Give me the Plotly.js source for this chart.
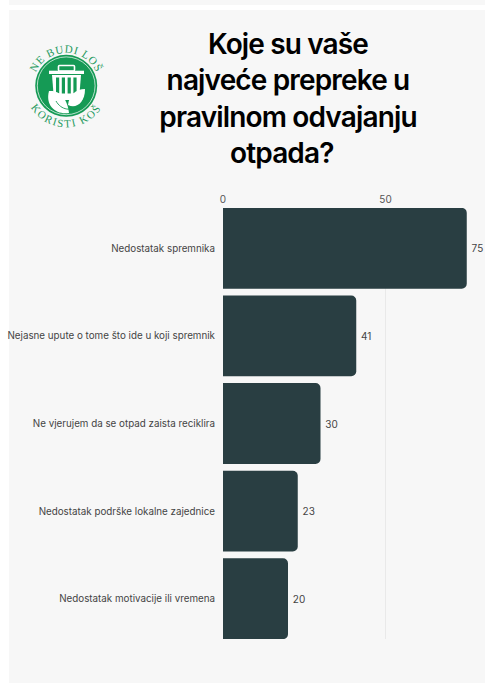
<!DOCTYPE html>
<html>
<head>
<meta charset="utf-8">
<script src="https://cdn.plot.ly/plotly-3.0.1.min.js"></script>
<style>
  html, body { margin: 0; padding: 0; background: #ffffff; }
  #page { position: relative; width: 485px; height: 683px; overflow: hidden; }
  .panel { position: absolute; left: 9px; right: 0; background: #f7f7f7; }
  #chart { position: absolute; left: 0; top: 0; width: 485px; height: 683px; }
  #chart .gtitle { letter-spacing: -0.85px; }
  #badge { position: absolute; left: 25px; top: 42px; width: 84px; height: 90px; overflow: visible; }
</style>
</head>
<body>
<div id="page">
  <div class="panel" style="top:0;height:5px"></div>
  <div class="panel" style="top:10px;bottom:0"></div>
  <div id="chart"></div>
  <!-- Campaign badge: green disc with a bin and leaves, ringed by the slogan -->
  <svg id="badge" viewBox="0 0 84 90">
    <defs>
      <path id="arcTop" d="M8.2 43.8 A33 33 0 0 1 74.2 43.8"/>
      <path id="arcBottom" d="M-0.3 43.8 A41.5 41.5 0 0 0 82.7 43.8"/>
    </defs>
    <circle cx="41.2" cy="43.8" r="31" fill="#159a55"/>
    <circle cx="41.2" cy="43.8" r="28.9" fill="none" stroke="#ffffff" stroke-width="0.7"/>
    <rect x="24" y="28.7" width="35" height="3.3" fill="#ffffff"/>
    <rect x="33.5" y="23.5" width="16" height="5.5" rx="1" fill="none" stroke="#ffffff" stroke-width="1.6"/>
    <path d="M27 33 H56 L54 58 H29 Z" fill="#ffffff"/>
    <g fill="#159a55">
      <rect x="31" y="35.5" width="3.2" height="16"/>
      <rect x="36.8" y="35.5" width="3.2" height="16"/>
      <rect x="42.6" y="35.5" width="3.2" height="16"/>
      <rect x="48.4" y="35.5" width="3.2" height="16"/>
    </g>
    <path d="M24 49 C33 48 42 54 44 71 C31 73 20 64 24 49 Z" fill="#ffffff"/>
    <path d="M60 47 C51 47 44 53 43 63 C51 67 60 61 60 47 Z" fill="#ffffff"/>
    <path d="M31 59 C36 68 46 70 57 63" fill="none" stroke="#159a55" stroke-width="0.9"/>
    <text font-family="Liberation Serif" font-size="11" fill="#1f9a5e" letter-spacing="0.8" text-anchor="middle">
      <textPath href="#arcTop" startOffset="50%">NE BUDI LOŠ</textPath>
    </text>
    <text font-family="Liberation Serif" font-size="11" fill="#1f9a5e" letter-spacing="1.5" text-anchor="middle">
      <textPath href="#arcBottom" startOffset="50%">KORISTI KOŠ</textPath>
    </text>
  </svg>
</div>
<script>
// Reasons people give, from most to least frequent, with their response counts
const reasons = [
  "Nedostatak spremnika",
  "Nejasne upute o tome što ide u koji spremnik",
  "Ne vjerujem da se otpad zaista reciklira",
  "Nedostatak podrške lokalne zajednice",
  "Nedostatak motivacije ili vremena"
];
const counts = [75, 41, 30, 23, 20];
const axisTicks = [0, 50];
// The last line sits slightly left of centre, so it carries trailing padding
const heading = "Koje su vaše<br>najveće prepreke u<br>pravilnom odvajanju<br>otpada?\u00a0\u00a0\u200b";

const bars = {
  type: "bar",
  orientation: "h",
  y: reasons,
  x: counts,
  text: counts.map(v => "\u2009" + v),
  textposition: "outside",
  cliponaxis: false,
  textfont: { family: "Inter, sans-serif", size: 10, color: "#444444" },
  marker: { color: "#293e42", line: { width: 0 } },
  hoverinfo: "x+y"
};

const layout = {
  width: 485,
  height: 683,
  margin: { l: 222.5, r: 1.7, t: 207.5, b: 44, pad: 0 },
  paper_bgcolor: "rgba(0,0,0,0)",
  plot_bgcolor: "rgba(0,0,0,0)",
  showlegend: false,
  bargap: 0.077,
  barcornerradius: 5,
  title: {
    text: heading,
    x: 288 / 485,
    xref: "container",
    xanchor: "center",
    y: 629 / 683,
    yanchor: "middle",
    font: { family: "Inter, sans-serif", size: 28, color: "#000000", weight: 600 }
  },
  xaxis: {
    side: "top",
    range: [0, 80],
    tickvals: axisTicks,
    ticktext: axisTicks.map(String),
    ticks: "",
    showline: false,
    zeroline: false,
    showgrid: true,
    gridcolor: "#e9e9e9",
    gridwidth: 1,
    ticklabelstandoff: 2,
    tickfont: { family: "Inter, sans-serif", size: 10, color: "#555555" }
  },
  yaxis: {
    type: "category",
    categoryorder: "array",
    categoryarray: reasons,
    range: [4.46, -0.46],
    ticks: "",
    showline: false,
    showgrid: false,
    zeroline: false,
    ticklabelstandoff: 7,
    tickfont: { family: "Inter, sans-serif", size: 9.8, color: "#444444" }
  }
};

Plotly.newPlot("chart", [bars], layout, { displayModeBar: false, staticPlot: true });
</script>
</body>
</html>
